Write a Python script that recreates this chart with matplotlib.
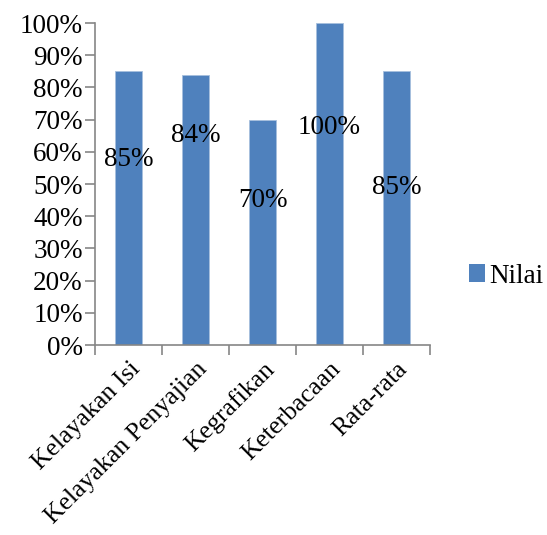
import matplotlib.pyplot as plt
import matplotlib.transforms as mtransforms
import numpy as np
from matplotlib.patches import Patch

categories = ["Kelayakan Isi", "Kelayakan Penyajian", "Kegrafikan", "Keterbacaan", "Rata-rata"]
values = [85, 84, 70, 100, 85]
series_name = "Nilai"

# where the data labels sit (in % units on the y axis)
label_y = [57.5, 65, 45, 67.5, 49]

plt.rcParams['font.family'] = ['Liberation Serif', 'DejaVu Serif']
FS = 19.5

fig = plt.figure(figsize=(5.47, 5.35), dpi=100)
ax = fig.add_axes([0.174, 0.355, 0.612, 0.602])

x = np.arange(len(categories))
bar_color = '#4F81BD'
ax.bar(x, values, width=0.4, color=bar_color, edgecolor='#A7C0DE', linewidth=0.6)

for xi, v, ly in zip(x, values, label_y):
    ax.text(xi, ly, "%d%%" % v, ha='center', va='center', fontsize=FS)

ax.set_xlim(-0.5, len(categories) - 0.5)
ax.set_ylim(0, 100)
ax.set_yticks(np.arange(0, 101, 10))
ax.set_yticklabels(["%d%%" % t for t in range(0, 101, 10)], fontsize=FS)

ax.set_xticks(x)
ax.set_xticklabels(categories, rotation=45, ha='right', va='top',
                   rotation_mode='anchor', fontsize=18.5)
# nudge the slanted labels a little to the left, as in the original
shift = mtransforms.ScaledTranslation(-6 / 72, 0, fig.dpi_scale_trans)
for lbl in ax.get_xticklabels():
    lbl.set_transform(lbl.get_transform() + shift)
ax.set_xticks(np.arange(-0.5, len(categories), 1.0), minor=True)
ax.tick_params(axis='x', which='major', length=0, pad=9)
ax.tick_params(axis='x', which='minor', length=7, color='#868686', width=1.2)
ax.tick_params(axis='y', length=7, color='#868686', width=1.2, pad=2)

for s in ['top', 'right']:
    ax.spines[s].set_visible(False)
for s in ['left', 'bottom']:
    ax.spines[s].set_color('#868686')
    ax.spines[s].set_linewidth(1.2)

handles = [Patch(facecolor=bar_color, label=series_name)]
fig.legend(handles=handles, loc='center left', bbox_to_anchor=(0.857, 0.484),
           frameon=False, fontsize=FS, handlelength=0.6, handleheight=0.6,
           handletextpad=0.15, borderpad=0, borderaxespad=0)

fig.savefig('out.png', dpi=100)
